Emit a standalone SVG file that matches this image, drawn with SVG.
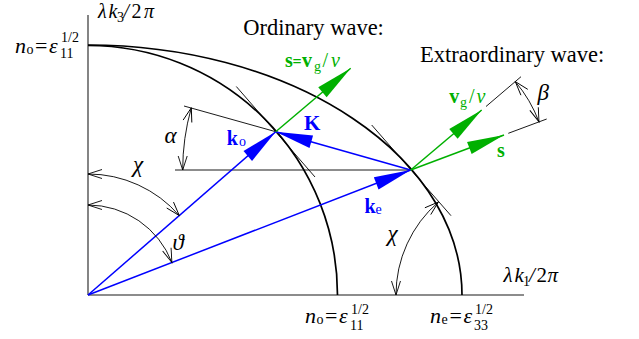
<svg xmlns="http://www.w3.org/2000/svg" width="639" height="339" viewBox="0 0 639 339">
<style>
.t{font-family:"Liberation Serif","Times New Roman",serif;fill:#000}
.i{font-style:italic}
.b{font-weight:bold}
.sm{font-size:14px}
.axis{stroke:#666;stroke-width:1.6;fill:none}
.curve{stroke:#000;stroke-width:1.7;fill:none}
.thin{stroke:#000;stroke-width:0.9;fill:none}
.blue{stroke:#0000ff;stroke-width:1.5;fill:none}
.green{stroke:#00b000;stroke-width:1.5;fill:none}
.arc{stroke:#000;stroke-width:0.9;fill:none;marker-start:url(#open);marker-end:url(#open)}
.bt{fill:#0000ff}
.gt{fill:#00b000}
</style>
<defs>
<marker id="hb" markerUnits="userSpaceOnUse" orient="auto" refX="0" refY="0" markerWidth="50" markerHeight="20" viewBox="-40 -10 50 20" overflow="visible"><path d="M0,0 L-37,-6.5 L-37,6.5 Z" fill="#0000ff"/></marker>
<marker id="hg" markerUnits="userSpaceOnUse" orient="auto" refX="0" refY="0" markerWidth="50" markerHeight="20" viewBox="-40 -10 50 20" overflow="visible"><path d="M0,0 L-37,-6.5 L-37,6.5 Z" fill="#00b000"/></marker>
<marker id="open" markerUnits="userSpaceOnUse" orient="auto-start-reverse" refX="0" refY="0" markerWidth="20" markerHeight="12" viewBox="-16 -6 20 12" overflow="visible"><path d="M-14,-4.5 L0,0 L-14,4.5" fill="none" stroke="#000" stroke-width="0.9"/></marker>
</defs>

<g id="axes">
<line class="axis" x1="88" y1="15" x2="88" y2="295"/>
<line class="axis" x1="88" y1="295" x2="524" y2="295"/>
</g>

<g id="surfaces">
<path class="curve" d="M88,45.5 A249.5,249.5 0 0 1 337.5,295"/>
<path class="curve" d="M88,45 A374,250 0 0 1 462,295"/>
<line class="thin" x1="236.3" y1="86.5" x2="315" y2="177"/>
<line class="thin" x1="371.7" y1="125" x2="451" y2="215.7"/>
<line class="thin" x1="175" y1="170" x2="410.7" y2="170" stroke="#333" stroke-width="1.2"/>
<line class="thin" x1="184" y1="106" x2="275.7" y2="131.7"/>
<line class="thin" x1="486" y1="106.5" x2="521" y2="76.7"/>
<line class="thin" x1="508.3" y1="133.3" x2="546.7" y2="119"/>
</g>

<g id="connectors">
<line class="blue" x1="88" y1="295" x2="275.7" y2="131.7" marker-end="url(#hb)"/>
<line class="blue" x1="88" y1="295" x2="410.7" y2="170" marker-end="url(#hb)"/>
<line class="blue" x1="410.7" y1="170" x2="275.7" y2="131.7" marker-end="url(#hb)"/>
<line class="green" x1="275.7" y1="131.7" x2="350.7" y2="68.3" marker-end="url(#hg)"/>
<line class="green" x1="410.7" y1="170" x2="481.7" y2="110" marker-end="url(#hg)"/>
<line class="green" x1="410.7" y1="170" x2="504" y2="135" marker-end="url(#hg)"/>
</g>

<g id="angles">
<path class="arc" d="M191.3,107.8 A228,228 0 0 0 182.7,170"/>
<path class="arc" d="M88,174 A121,121 0 0 1 179.3,215.6"/>
<path class="arc" d="M88,205 A90,90 0 0 1 171.9,262.5"/>
<path class="arc" d="M396,295 A123,123 0 0 1 438.4,202"/>
<path class="arc" d="M515.3,81.6 A137,137 0 0 1 539,121.9"/>
</g>

<g id="labels">
<text class="t" font-size="20"><tspan class="i" x="98" y="18">λ</tspan><tspan class="i" x="108.5" y="18">k</tspan><tspan x="117" y="21.5" font-size="14">3</tspan><tspan class="i" x="123.5" y="18">/</tspan><tspan x="131.5" y="18">2</tspan><tspan class="i" x="144" y="18">π</tspan></text>
<text class="t" font-size="21"><tspan class="i" x="503.5" y="281.7">λ</tspan><tspan class="i" x="514.5" y="281.7">k</tspan><tspan x="523" y="285.5" font-size="14">1</tspan><tspan class="i" x="529" y="281.7">/</tspan><tspan x="536.5" y="281.7">2</tspan><tspan class="i" x="547.5" y="281.7">π</tspan></text>

<text class="t" font-size="22"><tspan class="i" x="15" y="53">n</tspan><tspan class="sm" x="26.5" y="53.5">o</tspan><tspan x="35" y="53">=</tspan><tspan class="i" x="49" y="53">ε</tspan><tspan class="sm" x="60" y="58">11</tspan><tspan class="sm" x="61" y="41.5">1/2</tspan></text>
<text class="t" font-size="22"><tspan class="i" x="305" y="323.3">n</tspan><tspan class="sm" x="316.5" y="323.8">o</tspan><tspan x="325" y="323.3">=</tspan><tspan class="i" x="339" y="323.3">ε</tspan><tspan class="sm" x="350" y="330">11</tspan><tspan class="sm" x="351" y="313.5">1/2</tspan></text>
<text class="t" font-size="22"><tspan class="i" x="430" y="323.3">n</tspan><tspan class="sm" x="441.5" y="323.8">e</tspan><tspan x="449.5" y="323.3">=</tspan><tspan class="i" x="463.5" y="323.3">ε</tspan><tspan class="sm" x="474" y="330">33</tspan><tspan class="sm" x="475" y="313.5">1/2</tspan></text>

<text class="t" font-size="22.5" x="243.3" y="35">Ordinary wave:</text>
<text class="t" font-size="22.5" x="420" y="62.3">Extraordinary wave:</text>

<text class="t gt" font-size="20"><tspan class="b" x="285" y="67">s</tspan><tspan class="b" x="292.5" y="67" font-size="16">=</tspan><tspan class="b" x="302" y="67">v</tspan><tspan class="sm" x="314" y="71">g</tspan><tspan x="322.5" y="67">/</tspan><tspan class="i" x="331" y="67">ν</tspan></text>
<text class="t gt" font-size="20"><tspan class="b" x="449.3" y="102.7">v</tspan><tspan class="sm" x="460" y="106.7">g</tspan><tspan x="469" y="102.7">/</tspan><tspan class="i" x="476.5" y="102.7">ν</tspan></text>
<text class="t gt b" font-size="20" x="497" y="156.7">s</text>

<text class="t bt b" font-size="21" x="304" y="130">K</text>
<text class="t bt" font-size="20"><tspan class="b" x="226.7" y="145">k</tspan><tspan x="239" y="146" font-size="14">o</tspan></text>
<text class="t bt" font-size="20"><tspan class="b" x="364.5" y="212.7">k</tspan><tspan x="375.5" y="213.5" font-size="14">e</tspan></text>

<text class="t i" font-size="23" x="164.5" y="142.7">α</text>
<text class="t i" font-size="23" x="133" y="172">χ</text>
<text class="t i" font-size="23" x="172.5" y="249.5">ϑ</text>
<text class="t i" font-size="23" x="387.5" y="241">χ</text>
<text class="t i" font-size="23" x="537.5" y="100">β</text>
</g>
</svg>
